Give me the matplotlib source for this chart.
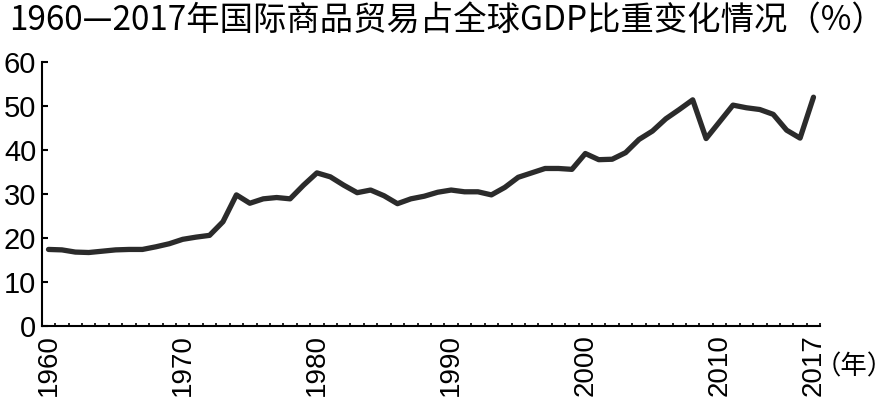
import matplotlib
matplotlib.use('Agg')
import matplotlib.pyplot as plt
import numpy as np

years = list(range(1960, 2018))
share = [17.4, 17.3, 16.8, 16.7, 17.0, 17.3, 17.4, 17.4, 18.0, 18.7,
         19.7, 20.2, 20.6, 23.7, 29.8, 27.9, 28.9, 29.2, 28.9, 32.0,
         34.8, 33.9, 32.0, 30.3, 30.9, 29.6, 27.8, 28.9, 29.5, 30.4,
         30.9, 30.5, 30.5, 29.8, 31.5, 33.8, 34.8, 35.8, 35.8, 35.6,
         39.2, 37.8, 37.9, 39.4, 42.4, 44.3, 47.1, 49.2, 51.4, 42.6,
         46.4, 50.2, 49.6, 49.2, 48.1, 44.5, 42.7, 52.0]
x_tick_years = [1960, 1970, 1980, 1990, 2000, 2010, 2017]
y_ticks = [0, 10, 20, 30, 40, 50, 60]
title = "1960—2017年国际商品贸易占全球GDP比重变化情况（%）"
x_unit = "（年）"

cjk = ['Noto Sans CJK SC', 'DejaVu Sans']
num_font = 'Liberation Sans'

fig = plt.figure(figsize=(8.95, 4.01), dpi=100)
ax = fig.add_axes([41.8/895, 75/401, (820.2-41.8)/895, (326-62)/401])

ax.plot(years, share, color='#2b2b2b', lw=3.8, solid_joinstyle='round',
        solid_capstyle='round', zorder=3)

ax.set_xlim(1959.5, 2017.5)
ax.set_ylim(0, 60)
for s in ['top', 'right']:
    ax.spines[s].set_visible(False)
for s in ['left', 'bottom']:
    ax.spines[s].set_linewidth(1.5)
    ax.spines[s].set_color('black')

ax.set_xticks(x_tick_years)
ax.set_xticklabels([str(y) for y in x_tick_years], rotation=90,
                   fontsize=20, family=num_font)
ax.set_xticks(np.arange(1960.5, 2018, 1), minor=True)
ax.tick_params(axis='x', which='major', length=0, pad=6)
ax.tick_params(axis='x', which='minor', direction='in', length=2.5, width=1.2)

ax.set_yticks(y_ticks)
ax.set_yticklabels([str(v) for v in y_ticks], fontsize=21, family=num_font)
ax.tick_params(axis='y', which='major', direction='in', length=4.5, width=1.5, pad=4)

fig.text(9/895, 1 - 2.5/401, title, ha='left', va='top', fontsize=24, family=cjk)
fig.text(894/895, 1 - 367/401, x_unit, ha='right', va='center', fontsize=19, family=cjk)

fig.savefig('out.png', dpi=100, facecolor='white')
